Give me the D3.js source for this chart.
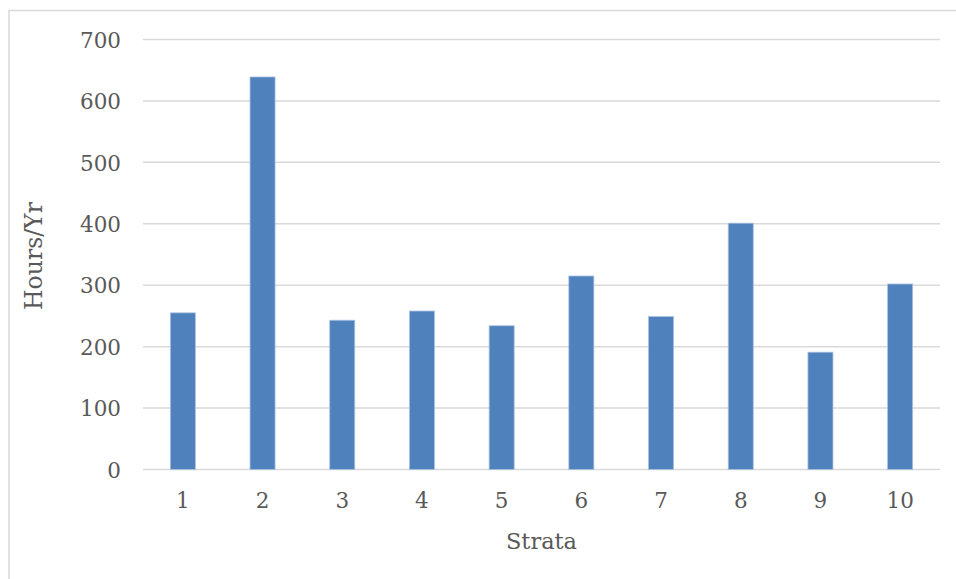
<!DOCTYPE html>
<html>
<head>
<meta charset="utf-8">
<script src="https://cdn.jsdelivr.net/npm/d3@7"></script>
<style>
  html, body { margin: 0; padding: 0; background: #fff; }
  svg { display: block; }
</style>
</head>
<body>
<svg id="chart" width="956" height="579"></svg>
<script>
const categories = ["1", "2", "3", "4", "5", "6", "7", "8", "9", "10"];
const values = [255, 639, 243, 258, 234, 315, 249, 401, 191, 302];
const yTicks = [0, 100, 200, 300, 400, 500, 600, 700];
const xTitle = "Strata";
const yTitle = "Hours/Yr";

const svg = d3.select("#chart");
const W = 956, H = 579;
const font = "'DejaVu Serif', serif";
const textColor = "#595959";

// frame
svg.append("rect")
  .attr("x", 9).attr("y", 10.5)
  .attr("width", W + 10).attr("height", H + 10)
  .attr("fill", "#fff").attr("stroke", "#d9d9d9").attr("stroke-width", 1.5);

const plot = { left: 143, right: 940, top: 39.5, bottom: 469.5 };

const x = d3.scaleBand().domain(categories).range([plot.left, plot.right]).padding(0);
const y = d3.scaleLinear().domain([0, 700]).range([plot.bottom, plot.top]);

// gridlines
svg.append("g").selectAll("line").data(yTicks).join("line")
  .attr("x1", plot.left).attr("x2", plot.right)
  .attr("y1", d => y(d)).attr("y2", d => y(d))
  .attr("stroke", "#d9d9d9").attr("stroke-width", 1.5);

// bars
const barW = x.bandwidth() * 0.314;
svg.append("g").selectAll("rect").data(values).join("rect")
  .attr("x", (d, i) => x(categories[i]) + (x.bandwidth() - barW) / 2)
  .attr("y", d => y(d))
  .attr("width", barW)
  .attr("height", d => y(0) - y(d))
  .attr("fill", "#4f81bd")
  .attr("stroke", "#a9c1e0").attr("stroke-width", 0.8);

// y axis labels
const yAxis = d3.axisLeft(y).tickValues(yTicks).tickSize(0).tickPadding(0);
const gy = svg.append("g").attr("transform", `translate(121,0)`).call(yAxis);
gy.select(".domain").remove();
gy.selectAll("text").attr("font-family", font).attr("font-size", "21.5px").attr("fill", textColor).attr("dy", "0.36em");

// x axis labels
const xAxis = d3.axisBottom(x).tickSize(0).tickPadding(0);
const gx = svg.append("g").attr("transform", `translate(0,${plot.bottom + 31})`).call(xAxis);
gx.select(".domain").remove();
gx.selectAll("text").attr("font-family", font).attr("font-size", "21.5px").attr("fill", textColor).attr("dy", "0.36em");

// titles
svg.append("text")
  .attr("x", (plot.left + plot.right) / 2).attr("y", 541)
  .attr("text-anchor", "middle").attr("dominant-baseline", "central")
  .attr("font-family", font).attr("font-size", "22.5px").attr("fill", textColor)
  .text(xTitle);

svg.append("text")
  .attr("transform", `translate(34,256) rotate(-90)`)
  .attr("text-anchor", "middle").attr("dominant-baseline", "central")
  .attr("font-family", font).attr("font-size", "23.5px").attr("fill", textColor)
  .text(yTitle);
</script>
</body>
</html>
